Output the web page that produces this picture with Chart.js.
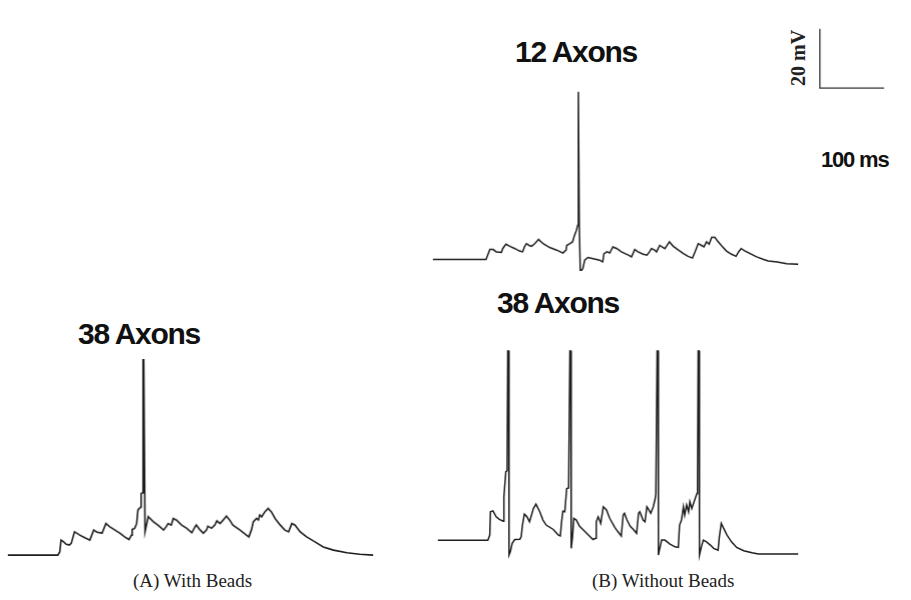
<!DOCTYPE html>
<html>
<head>
<meta charset="utf-8">
<script src="https://cdn.jsdelivr.net/npm/chart.js@4"></script>
<style>
  body { margin: 0; background: #fff; }
  #fig { position: relative; width: 911px; height: 600px; overflow: hidden; }
  #fig canvas { position: absolute; }
  .lbl { position: absolute; font-family: "Liberation Sans", Arial, sans-serif; font-weight: bold; font-size: 30px; line-height: 30px; letter-spacing: -1.3px; color: #111; white-space: nowrap; }
  .cap { position: absolute; font-family: "Liberation Serif", "DejaVu Serif", serif; font-size: 19px; line-height: 19px; color: #222; white-space: nowrap; }
</style>
</head>
<body>
<div id="fig">
  <canvas id="traceA"></canvas>
  <canvas id="traceB12"></canvas>
  <canvas id="traceB38"></canvas>
  <canvas id="scaleBar"></canvas>
  <div class="lbl" style="left:78px; top:319px;">38 Axons</div>
  <div class="lbl" style="left:515px; top:37px;">12 Axons</div>
  <div class="lbl" style="left:497px; top:288px;">38 Axons</div>
  <div class="lbl" style="left:821px; top:149px; font-size:22px; line-height:22px; letter-spacing:-1.2px;">100 ms</div>
  <div class="cap" style="font-weight:bold; font-size:20px; line-height:20px; transform:rotate(-90deg); transform-origin:left top; left:788px; top:86px;">20 mV</div>
  <div class="cap" style="left:133px; top:571px;">(A) With Beads</div>
  <div class="cap" style="left:592px; top:571px;">(B) Without Beads</div>
</div>
<script>
// time in ms from trace start, voltage in mV above resting potential
const tA = [0, 78, 81, 83, 87, 91, 96, 99, 104, 112, 120, 128, 134, 139, 147, 153, 159, 167, 175, 182, 189, 193, 194, 198, 201, 203, 207, 208, 210.5, 211, 212, 214, 219, 227, 234, 243, 247, 250, 255, 258, 263, 271, 279, 287, 292, 294, 300, 305, 310, 312, 318, 323, 326, 331, 336, 341, 346, 351, 362, 372, 376, 380, 383, 388, 391, 393, 396, 401, 406, 411, 417, 425, 432, 438, 443, 448, 456, 466, 479, 492, 508, 529, 549, 570];
const vA = [0, 0, 1.1, 5.1, 4.5, 3.7, 3.4, 4.0, 7.9, 6.8, 5.9, 5.1, 8.5, 7.8, 7.4, 10.7, 9.6, 8.5, 7.4, 6.2, 5.3, 6.8, 8.7, 9.1, 10.7, 15.3, 16.2, 20.9, 21.1, 66.1, 66.1, 7.9, 13.0, 11.3, 10.2, 8.5, 9.6, 10.7, 10.2, 12.4, 11.9, 10.2, 9.1, 7.6, 9.6, 10.2, 8.5, 7.4, 8.5, 9.8, 9.1, 10.2, 11.6, 10.7, 11.9, 13.2, 11.9, 10.2, 8.5, 6.8, 6.2, 8.5, 11.3, 12.4, 11.9, 13.6, 13.0, 14.7, 15.8, 14.7, 12.4, 10.2, 8.5, 7.9, 10.7, 10.2, 7.9, 6.2, 4.5, 2.8, 1.7, 0.8, 0.3, 0];

const tB12 = [0, 83, 86, 89, 94, 99, 107, 109, 114, 120, 128, 135, 140, 143, 146, 150, 154, 159, 165, 172, 182, 193, 203, 208, 209, 214, 218, 221, 224, 226, 227, 228.5, 230, 232, 234, 237, 242, 250, 260, 265, 267, 272, 276, 281, 287, 294, 305, 310, 315, 320, 328, 334, 338, 341, 346, 349, 354, 359, 362, 369, 375, 383, 391, 398, 405, 409, 414, 419, 423, 427, 431, 435, 440, 444, 451, 458, 466, 473, 477, 481, 487, 495, 505, 516, 523, 537, 552, 570];
const vB12 = [0, 0, 1.7, 3.4, 3.4, 2.6, 2.4, 3.7, 5.2, 4.5, 3.7, 2.9, 2.6, 4.3, 5.4, 4.8, 4.5, 5.4, 6.8, 5.4, 4.1, 3.2, 2.2, 3.2, 4.8, 5.4, 6.0, 8.2, 9.9, 11.6, 56.8, 11.1, -3.6, -3.6, -3.1, -0.2, 0.7, 0.3, -0.2, -0.8, 2.0, 2.6, 2.2, 4.3, 3.7, 2.6, 1.5, 0.9, 3.4, 2.6, 1.8, 1.5, 2.6, 3.7, 3.2, 2.6, 4.8, 4.1, 3.7, 6.0, 4.5, 3.2, 2.0, 1.1, 0.5, 2.6, 5.4, 4.8, 4.3, 6.0, 5.2, 7.5, 7.5, 6.3, 4.5, 2.9, 1.8, 1.1, 2.6, 3.7, 2.9, 2.0, 0.9, 0, -0.5, -0.8, -1.4, -1.6];

const tB38 = [0, 78, 81, 82, 86, 91, 96, 102, 103, 106, 108, 109, 110.5, 111, 113, 116, 120, 128, 130, 132, 135, 139, 143, 149, 153, 159, 164, 169, 180, 188, 191, 193, 195, 198, 201, 204, 206, 207.5, 208, 210, 212, 216, 221, 227, 234, 242, 246, 247, 250, 254, 258, 263, 268, 276, 281, 286, 289, 291, 295, 300, 305, 310, 313, 315, 320, 323, 326, 328, 332, 336, 339, 340, 342, 343.5, 344, 345, 349, 354, 362, 370, 375, 377, 380, 383, 385, 388, 391, 393, 396, 404, 405, 406, 407.5, 408, 411, 414, 419, 425, 430, 437, 439, 442, 445, 451, 458, 466, 477, 490, 500, 562];
const vB38 = [0, 0, 1.8, 9.7, 10.0, 8.0, 7.1, 6.5, 14.8, 23.3, 23.6, 64.3, 64.3, -5.0, -3.9, -1.0, 0.3, 0.4, 1.2, 5.2, 8.9, 8.0, 6.3, 10.8, 12.3, 9.7, 6.9, 5.2, 3.7, 1.8, 1.5, 6.3, 9.9, 9.7, 17.6, 17.8, 64.3, 64.3, -2.7, 1.2, 7.5, 6.9, 4.8, 3.5, 2.0, 0.3, 0.7, 6.3, 8.0, 5.8, 11.4, 10.3, 7.5, 4.4, 2.9, 1.5, 8.6, 9.2, 6.9, 4.8, 3.7, 2.4, 9.2, 9.7, 6.9, 6.3, 11.4, 10.8, 9.2, 11.4, 14.2, 15.9, 64.3, 64.3, -5.0, -3.9, 0.1, 0.1, -1.3, -2.2, -2.4, 5.2, 6.9, 11.4, 8.6, 12.0, 9.7, 13.1, 10.8, 15.9, 20.4, 64.3, 64.3, -5.0, -2.2, 0.1, -0.5, -1.6, -2.7, -3.3, 1.2, 5.8, 4.4, 1.8, -0.5, -2.4, -3.5, -4.2, -4.6, -4.6];

// scale bar: 20 mV and 100 ms
const barT = [0, 0, 100];
const barV = [20, 0, 0];

const PX_PER_MS = 0.64;
const PX_PER_MV = 2.95;
const PAD_MS = 6;
const PAD_MV = 2;

function pts(t, v) {
  return t.map((x, i) => ({ x: x, y: v[i] }));
}

// origin = pixel position of (t=0, rest)
function trace(id, t, v, ox, oy, color, width) {
  const tMin = Math.min(...t) - PAD_MS, tMax = Math.max(...t) + PAD_MS;
  const vMin = Math.min(...v) - PAD_MV, vMax = Math.max(...v) + PAD_MV;
  const el = document.getElementById(id);
  const w = (tMax - tMin) * PX_PER_MS;
  const h = (vMax - vMin) * PX_PER_MV;
  el.width = w; el.height = h;
  el.style.left = (ox + tMin * PX_PER_MS) + "px";
  el.style.top = (oy - vMax * PX_PER_MV) + "px";
  el.style.width = w + "px"; el.style.height = h + "px";
  return new Chart(el, {
    type: "line",
    data: {
      datasets: [{
        data: pts(t, v),
        borderColor: color,
        borderWidth: width,
        pointRadius: 0,
        tension: 0,
        fill: false
      }]
    },
    options: {
      responsive: false,
      animation: false,
      layout: { padding: 0 },
      plugins: { legend: { display: false }, tooltip: { enabled: false } },
      scales: {
        x: { type: "linear", min: tMin, max: tMax, display: false },
        y: { type: "linear", min: vMin, max: vMax, display: false }
      }
    }
  });
}

trace("traceA", tA, vA, 8.3, 555, "#1e1e1e", 1.6);
trace("traceB12", tB12, vB12, 433.3, 259.3, "#1e1e1e", 1.5);
trace("traceB38", tB38, vB38, 438.3, 540.3, "#1e1e1e", 1.5);
trace("scaleBar", barT, barV, 820, 88, "#333", 1.3);
</script>
</body>
</html>
